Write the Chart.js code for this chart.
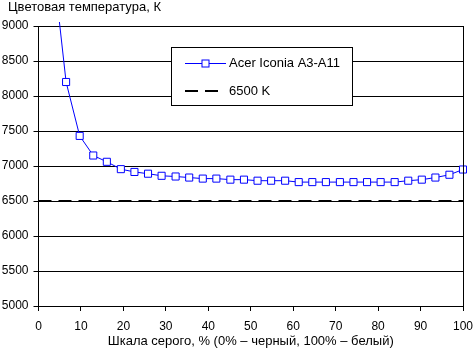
<!DOCTYPE html>
<html>
<head>
<meta charset="utf-8">
<script src="https://cdn.jsdelivr.net/npm/chart.js@4/dist/chart.umd.min.js"></script>
<style>
    html, body { margin: 0; padding: 0; background: #fff; }
    #wrap { width: 473px; height: 349px; }
</style>
</head>
<body>
<div id="wrap"><canvas id="chart-temp" width="473" height="349"></canvas></div>
<script>
// gray level, % of full white
const grayLevels = [3.2, 6.5, 9.7, 12.9, 16.1, 19.4, 22.6, 25.8, 29.0, 32.3, 35.5, 38.7, 41.9, 45.2, 48.4,
    51.6, 54.8, 58.1, 61.3, 64.5, 67.7, 71.0, 74.2, 77.4, 80.6, 83.9, 87.1, 90.3, 93.5, 96.8, 100];
// measured colour temperature, K
const colorTemps = [10000, 8200, 7430, 7150, 7060, 6955, 6915, 6890, 6860, 6850, 6835, 6820, 6820, 6805, 6805,
    6790, 6790, 6790, 6770, 6770, 6770, 6770, 6770, 6770, 6770, 6770, 6790, 6805, 6835, 6875, 6950];
const refRange = [0, 100];
const refTemp = [6500, 6500];
const xTicks = [0, 10, 20, 30, 40, 50, 60, 70, 80, 90, 100];
const yTicks = [5000, 5500, 6000, 6500, 7000, 7500, 8000, 8500, 9000];

const seriesName = 'Acer Iconia A3-A11';
const refName = '6500 K';
const yTitle = 'Цветовая температура, К';
const xTitle = 'Шкала серого, % (0% – черный, 100% – белый)';

const FONT = 'Liberation Sans, Arial, sans-serif';

// title above the value axis, right border and the boxed legend
const extras = {
    id: 'extras',
    afterDatasetsDraw(chart) {
        const ctx = chart.ctx;
        const a = chart.chartArea;
        ctx.save();
        ctx.strokeStyle = '#000';
        ctx.lineWidth = 1;
        ctx.beginPath();
        ctx.moveTo(Math.round(a.right) + 0.5, a.top);
        ctx.lineTo(Math.round(a.right) + 0.5, a.bottom);
        ctx.stroke();

        ctx.font = '13px ' + FONT;
        ctx.fillStyle = '#000';
        ctx.textBaseline = 'middle';
        ctx.textAlign = 'left';
        ctx.fillText(yTitle, 8, 7);

        // legend box
        ctx.fillStyle = '#fff';
        ctx.fillRect(171.5, 47.5, 181, 58);
        ctx.strokeRect(171.5, 47.5, 181, 58);

        const ds = chart.data.datasets;
        // row 1: blue line with square marker
        ctx.strokeStyle = ds[0].borderColor;
        ctx.lineWidth = ds[0].borderWidth;
        ctx.beginPath();
        ctx.moveTo(185, 63.5);
        ctx.lineTo(226, 63.5);
        ctx.stroke();
        ctx.fillStyle = '#fff';
        ctx.fillRect(202, 60, 7, 7);
        ctx.strokeRect(202, 60, 7, 7);

        // row 2: dashed black line
        ctx.strokeStyle = ds[1].borderColor;
        ctx.lineWidth = ds[1].borderWidth;
        ctx.setLineDash(ds[1].borderDash);
        ctx.beginPath();
        ctx.moveTo(185, 91);
        ctx.lineTo(220, 91);
        ctx.stroke();
        ctx.setLineDash([]);

        ctx.fillStyle = '#000';
        ctx.fillText(seriesName, 229, 63);
        ctx.fillText(refName, 229, 91);
        ctx.restore();
    }
};

new Chart(document.getElementById('chart-temp'), {
    type: 'line',
    data: {
        datasets: [{
            label: seriesName,
            data: grayLevels.map((x, i) => ({ x: x, y: colorTemps[i] })),
            borderColor: '#0000ff',
            borderWidth: 1,
            pointStyle: 'rect',
            pointRadius: 5,
            pointBorderWidth: 1,
            pointBorderColor: '#0000ff',
            pointBackgroundColor: '#fff',
            tension: 0,
            clip: 4
        }, {
            label: refName,
            data: refRange.map((x, i) => ({ x: x, y: refTemp[i] })),
            borderColor: '#000',
            borderWidth: 2,
            borderDash: [13, 7],
            pointRadius: 0,
            clip: 0
        }]
    },
    options: {
        responsive: false,
        animation: false,
        layout: { padding: { top: 26, right: 10, left: 0, bottom: 0 } },
        plugins: {
            legend: { display: false },
            tooltip: { enabled: false }
        },
        scales: {
            x: {
                type: 'linear',
                min: 0,
                max: 100,
                afterBuildTicks: s => { s.ticks = xTicks.map(v => ({ value: v })); },
                afterFit: s => { s.height = 43; s.paddingLeft = 0; s.paddingRight = 0; },
                grid: { drawOnChartArea: false, drawTicks: true, tickLength: 5, color: '#000' },
                border: { color: '#000', width: 1 },
                ticks: { color: '#000', font: { family: FONT, size: 12 }, padding: 8, maxRotation: 0, callback: v => String(v) },
                title: { display: true, text: xTitle, color: '#000', font: { family: FONT, size: 13 }, padding: { top: 0, bottom: 0 } }
            },
            y: {
                min: 5000,
                max: 9000,
                afterBuildTicks: s => { s.ticks = yTicks.map(v => ({ value: v })); },
                afterFit: s => { s.width = 38.5; s.paddingTop = 0; s.paddingBottom = 0; },
                grid: { color: '#000', lineWidth: 1, tickLength: 5 },
                border: { color: '#000', width: 1 },
                ticks: { color: '#000', font: { family: FONT, size: 12 }, padding: 5, callback: v => String(v) }
            }
        }
    },
    plugins: [extras]
});
</script>
</body>
</html>
